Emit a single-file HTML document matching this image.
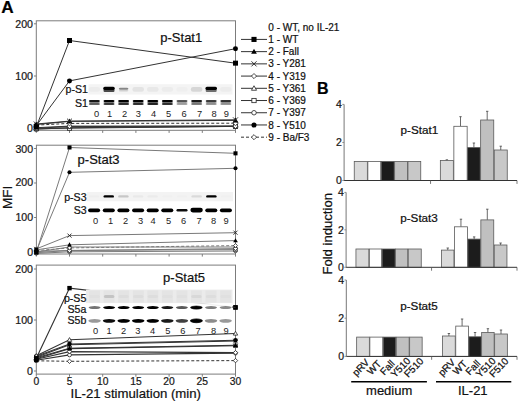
<!DOCTYPE html>
<html><head><meta charset="utf-8"><style>
html,body{margin:0;padding:0;background:#fff;}
svg{display:block;font-family:"Liberation Sans", sans-serif;}
text{stroke:#111;stroke-width:0.22px;}
</style></head><body>
<svg width="520" height="402" viewBox="0 0 520 402">
<defs>
<filter id="bl7" x="-50%" y="-150%" width="200%" height="400%"><feGaussianBlur stdDeviation="0.7"/></filter>
<filter id="bl5" x="-50%" y="-150%" width="200%" height="400%"><feGaussianBlur stdDeviation="0.5"/></filter>
<filter id="bl6" x="-50%" y="-150%" width="200%" height="400%"><feGaussianBlur stdDeviation="0.6"/></filter>
<filter id="bl9" x="-50%" y="-150%" width="200%" height="400%"><feGaussianBlur stdDeviation="0.9"/></filter>
<filter id="bl12" x="-50%" y="-100%" width="200%" height="300%"><feGaussianBlur stdDeviation="1.2"/></filter>
</defs>
<rect width="520" height="402" fill="#fff"/>
<text x="1.3" y="13.4" font-size="17.2" text-anchor="start" font-weight="bold" fill="#000" >A</text>
<rect x="36.3" y="20.8" width="199.2" height="109.5" fill="none" stroke="#7c7c7c" stroke-width="1"/>
<line x1="34.0" y1="23.8" x2="36.3" y2="23.8" stroke="#7c7c7c" stroke-width="1"/>
<text x="33.0" y="27.6" font-size="10.6" text-anchor="end" font-weight="normal" fill="#1a1a1a" >200</text>
<line x1="34.0" y1="76" x2="36.3" y2="76" stroke="#7c7c7c" stroke-width="1"/>
<text x="33.0" y="79.8" font-size="10.6" text-anchor="end" font-weight="normal" fill="#1a1a1a" >100</text>
<line x1="34.0" y1="128.2" x2="36.3" y2="128.2" stroke="#7c7c7c" stroke-width="1"/>
<text x="33.0" y="132.0" font-size="10.6" text-anchor="end" font-weight="normal" fill="#1a1a1a" >0</text>
<line x1="36.3" y1="130.3" x2="36.3" y2="132.9" stroke="#7c7c7c" stroke-width="1"/>
<line x1="69.5" y1="130.3" x2="69.5" y2="132.9" stroke="#7c7c7c" stroke-width="1"/>
<line x1="102.7" y1="130.3" x2="102.7" y2="132.9" stroke="#7c7c7c" stroke-width="1"/>
<line x1="135.9" y1="130.3" x2="135.9" y2="132.9" stroke="#7c7c7c" stroke-width="1"/>
<line x1="169.1" y1="130.3" x2="169.1" y2="132.9" stroke="#7c7c7c" stroke-width="1"/>
<line x1="202.3" y1="130.3" x2="202.3" y2="132.9" stroke="#7c7c7c" stroke-width="1"/>
<line x1="235.5" y1="130.3" x2="235.5" y2="132.9" stroke="#7c7c7c" stroke-width="1"/>
<rect x="36.4" y="145.2" width="199.1" height="108.8" fill="none" stroke="#7c7c7c" stroke-width="1"/>
<line x1="34.1" y1="148.5" x2="36.4" y2="148.5" stroke="#7c7c7c" stroke-width="1"/>
<text x="33.1" y="152.8" font-size="10.6" text-anchor="end" font-weight="normal" fill="#1a1a1a" >300</text>
<line x1="34.1" y1="183.0" x2="36.4" y2="183.0" stroke="#7c7c7c" stroke-width="1"/>
<text x="33.1" y="186.2" font-size="10.6" text-anchor="end" font-weight="normal" fill="#1a1a1a" >200</text>
<line x1="34.1" y1="217.5" x2="36.4" y2="217.5" stroke="#7c7c7c" stroke-width="1"/>
<text x="33.1" y="221.0" font-size="10.6" text-anchor="end" font-weight="normal" fill="#1a1a1a" >100</text>
<line x1="34.1" y1="252.0" x2="36.4" y2="252.0" stroke="#7c7c7c" stroke-width="1"/>
<text x="33.1" y="255.6" font-size="10.6" text-anchor="end" font-weight="normal" fill="#1a1a1a" >0</text>
<line x1="36.3" y1="254.0" x2="36.3" y2="256.6" stroke="#7c7c7c" stroke-width="1"/>
<line x1="69.5" y1="254.0" x2="69.5" y2="256.6" stroke="#7c7c7c" stroke-width="1"/>
<line x1="102.7" y1="254.0" x2="102.7" y2="256.6" stroke="#7c7c7c" stroke-width="1"/>
<line x1="135.9" y1="254.0" x2="135.9" y2="256.6" stroke="#7c7c7c" stroke-width="1"/>
<line x1="169.1" y1="254.0" x2="169.1" y2="256.6" stroke="#7c7c7c" stroke-width="1"/>
<line x1="202.3" y1="254.0" x2="202.3" y2="256.6" stroke="#7c7c7c" stroke-width="1"/>
<line x1="235.5" y1="254.0" x2="235.5" y2="256.6" stroke="#7c7c7c" stroke-width="1"/>
<rect x="36.3" y="265.1" width="199.2" height="109.0" fill="none" stroke="#7c7c7c" stroke-width="1"/>
<line x1="34.0" y1="269.0" x2="36.3" y2="269.0" stroke="#7c7c7c" stroke-width="1"/>
<text x="33.0" y="272.8" font-size="10.6" text-anchor="end" font-weight="normal" fill="#1a1a1a" >200</text>
<line x1="34.0" y1="320.0" x2="36.3" y2="320.0" stroke="#7c7c7c" stroke-width="1"/>
<text x="33.0" y="323.8" font-size="10.6" text-anchor="end" font-weight="normal" fill="#1a1a1a" >100</text>
<line x1="34.0" y1="371.0" x2="36.3" y2="371.0" stroke="#7c7c7c" stroke-width="1"/>
<text x="33.0" y="374.8" font-size="10.6" text-anchor="end" font-weight="normal" fill="#1a1a1a" >0</text>
<line x1="36.3" y1="374.1" x2="36.3" y2="376.7" stroke="#7c7c7c" stroke-width="1"/>
<line x1="69.5" y1="374.1" x2="69.5" y2="376.7" stroke="#7c7c7c" stroke-width="1"/>
<line x1="102.7" y1="374.1" x2="102.7" y2="376.7" stroke="#7c7c7c" stroke-width="1"/>
<line x1="135.9" y1="374.1" x2="135.9" y2="376.7" stroke="#7c7c7c" stroke-width="1"/>
<line x1="169.1" y1="374.1" x2="169.1" y2="376.7" stroke="#7c7c7c" stroke-width="1"/>
<line x1="202.3" y1="374.1" x2="202.3" y2="376.7" stroke="#7c7c7c" stroke-width="1"/>
<line x1="235.5" y1="374.1" x2="235.5" y2="376.7" stroke="#7c7c7c" stroke-width="1"/>
<text x="36.3" y="385.2" font-size="10.3" text-anchor="middle" font-weight="normal" fill="#1a1a1a" >0</text>
<text x="69.5" y="385.2" font-size="10.3" text-anchor="middle" font-weight="normal" fill="#1a1a1a" >5</text>
<text x="102.7" y="385.2" font-size="10.3" text-anchor="middle" font-weight="normal" fill="#1a1a1a" >10</text>
<text x="135.9" y="385.2" font-size="10.3" text-anchor="middle" font-weight="normal" fill="#1a1a1a" >15</text>
<text x="169.1" y="385.2" font-size="10.3" text-anchor="middle" font-weight="normal" fill="#1a1a1a" >20</text>
<text x="202.3" y="385.2" font-size="10.3" text-anchor="middle" font-weight="normal" fill="#1a1a1a" >25</text>
<text x="235.5" y="385.2" font-size="10.3" text-anchor="middle" font-weight="normal" fill="#1a1a1a" >30</text>
<text x="135.8" y="398.1" font-size="13.2" text-anchor="middle" font-weight="normal" fill="#111" >IL-21 stimulation (min)</text>
<text transform="translate(12.2,197.4) rotate(-90)" font-size="13.5" text-anchor="middle" fill="#111">MFI</text>
<text x="160.3" y="42" font-size="13" text-anchor="start" font-weight="normal" fill="#111" >p-Stat1</text>
<text x="77.6" y="163.9" font-size="13" text-anchor="start" font-weight="normal" fill="#111" >p-Stat3</text>
<text x="163.1" y="281.6" font-size="13" text-anchor="start" font-weight="normal" fill="#111" >p-Stat5</text>
<path d="M36.3,129.2 L69.5,127.7 L235.5,126.4" fill="none" stroke="#333" stroke-width="1.0"/>
<circle cx="36.3" cy="129.24" r="2.19" fill="#fff" stroke="#222" stroke-width="0.8"/>
<circle cx="69.5" cy="127.68" r="2.19" fill="#fff" stroke="#222" stroke-width="0.8"/>
<circle cx="235.5" cy="126.37" r="2.19" fill="#fff" stroke="#222" stroke-width="0.8"/>
<path d="M36.3,128.7 L69.5,128.2 L235.5,126.4" fill="none" stroke="#333" stroke-width="1.0"/>
<rect x="34.21" y="126.63" width="4.19" height="4.19" fill="#fff" stroke="#222" stroke-width="0.8"/>
<rect x="67.41" y="126.11" width="4.19" height="4.19" fill="#fff" stroke="#222" stroke-width="0.8"/>
<rect x="233.41" y="124.28" width="4.19" height="4.19" fill="#fff" stroke="#222" stroke-width="0.8"/>
<path d="M36.3,128.2 L69.5,126.6 L235.5,126.1" fill="none" stroke="#333" stroke-width="1.0"/>
<path d="M36.3,125.71 L38.79,130.09 L33.81,130.09 Z" fill="#fff" stroke="#222" stroke-width="0.8"/>
<path d="M69.5,124.14 L71.99,128.53 L67.01,128.53 Z" fill="#fff" stroke="#222" stroke-width="0.8"/>
<path d="M235.5,123.62 L237.99,128.01 L233.01,128.01 Z" fill="#fff" stroke="#222" stroke-width="0.8"/>
<path d="M36.3,127.7 L69.5,126.1 L235.5,126.1" fill="none" stroke="#333" stroke-width="1.0"/>
<path d="M36.3,125.18 L38.79,127.68 L36.3,130.17 L33.81,127.68 Z" fill="#fff" stroke="#222" stroke-width="0.8"/>
<path d="M69.5,123.62 L71.99,126.11 L69.5,128.61 L67.01,126.11 Z" fill="#fff" stroke="#222" stroke-width="0.8"/>
<path d="M235.5,123.62 L237.99,126.11 L235.5,128.61 L233.01,126.11 Z" fill="#fff" stroke="#222" stroke-width="0.8"/>
<path d="M36.3,125.1 L69.5,123.4 L235.5,123.2" fill="none" stroke="#333" stroke-width="1.0" stroke-dasharray="3,2"/>
<path d="M36.3,122.57 L38.79,125.07 L36.3,127.56 L33.81,125.07 Z" fill="#fff" stroke="#222" stroke-width="0.8"/>
<path d="M69.5,120.9 L71.99,123.4 L69.5,125.89 L67.01,123.4 Z" fill="#fff" stroke="#222" stroke-width="0.8"/>
<path d="M235.5,120.75 L237.99,123.24 L235.5,125.73 L233.01,123.24 Z" fill="#fff" stroke="#222" stroke-width="0.8"/>
<path d="M36.3,124.5 L69.5,121.4 L235.5,120.4" fill="none" stroke="#333" stroke-width="1.0"/>
<path d="M36.3,121.65 L39.09,126.64 L33.51,126.64 Z" fill="#000"/>
<path d="M69.5,118.52 L72.29,123.51 L66.71,123.51 Z" fill="#000"/>
<path d="M235.5,117.48 L238.29,122.46 L232.71,122.46 Z" fill="#000"/>
<path d="M36.3,124.0 L69.5,121.1 L235.5,119.8" fill="none" stroke="#333" stroke-width="1.0"/>
<path d="M33.81,121.53 L38.79,126.52 M33.81,126.52 L38.79,121.53" stroke="#222" stroke-width="0.9" fill="none"/>
<path d="M67.01,118.61 L71.99,123.59 M67.01,123.59 L71.99,118.61" stroke="#222" stroke-width="0.9" fill="none"/>
<path d="M233.01,117.35 L237.99,122.34 M233.01,122.34 L237.99,117.35" stroke="#222" stroke-width="0.9" fill="none"/>
<path d="M36.3,125.6 L69.5,80.9 L235.5,48.7" fill="none" stroke="#333" stroke-width="1.0"/>
<circle cx="36.3" cy="125.59" r="2.49" fill="#000"/>
<circle cx="69.5" cy="80.91" r="2.49" fill="#000"/>
<circle cx="235.5" cy="48.7" r="2.49" fill="#000"/>
<path d="M36.3,126.9 L69.5,40.5 L235.5,63.2" fill="none" stroke="#333" stroke-width="1.0"/>
<rect x="33.81" y="124.4" width="4.99" height="4.99" fill="#000"/>
<rect x="67.01" y="38.01" width="4.99" height="4.99" fill="#000"/>
<rect x="233.01" y="60.66" width="4.99" height="4.99" fill="#000"/>
<path d="M36.3,253.4 L69.5,251.8 L235.5,251.0" fill="none" stroke="#7a7a7a" stroke-width="1.0"/>
<circle cx="36.3" cy="253.38" r="1.73" fill="#fff" stroke="#222" stroke-width="0.8"/>
<circle cx="69.5" cy="251.83" r="1.73" fill="#fff" stroke="#222" stroke-width="0.8"/>
<circle cx="235.5" cy="250.97" r="1.73" fill="#fff" stroke="#222" stroke-width="0.8"/>
<path d="M36.3,252.7 L69.5,250.4 L235.5,249.6" fill="none" stroke="#7a7a7a" stroke-width="1.0"/>
<rect x="34.67" y="251.06" width="3.26" height="3.26" fill="#fff" stroke="#222" stroke-width="0.8"/>
<rect x="67.87" y="248.78" width="3.26" height="3.26" fill="#fff" stroke="#222" stroke-width="0.8"/>
<rect x="233.87" y="247.96" width="3.26" height="3.26" fill="#fff" stroke="#222" stroke-width="0.8"/>
<path d="M36.3,252.0 L69.5,247.0 L235.5,247.0" fill="none" stroke="#7a7a7a" stroke-width="1.0"/>
<path d="M36.3,249.97 L38.33,253.43 L34.27,253.43 Z" fill="#fff" stroke="#222" stroke-width="0.8"/>
<path d="M69.5,244.97 L71.53,248.43 L67.47,248.43 Z" fill="#fff" stroke="#222" stroke-width="0.8"/>
<path d="M235.5,244.97 L237.53,248.43 L233.47,248.43 Z" fill="#fff" stroke="#222" stroke-width="0.8"/>
<path d="M36.3,251.3 L69.5,250.6 L235.5,248.6" fill="none" stroke="#7a7a7a" stroke-width="1.0"/>
<path d="M36.3,249.28 L38.33,251.31 L36.3,253.34 L34.27,251.31 Z" fill="#fff" stroke="#222" stroke-width="0.8"/>
<path d="M69.5,248.59 L71.53,250.62 L69.5,252.65 L67.47,250.62 Z" fill="#fff" stroke="#222" stroke-width="0.8"/>
<path d="M235.5,246.52 L237.53,248.55 L235.5,250.58 L233.47,248.55 Z" fill="#fff" stroke="#222" stroke-width="0.8"/>
<path d="M36.3,250.6 L69.5,247.9 L235.5,245.6" fill="none" stroke="#7a7a7a" stroke-width="1.0" stroke-dasharray="3,2"/>
<path d="M36.3,248.59 L38.33,250.62 L36.3,252.65 L34.27,250.62 Z" fill="#fff" stroke="#222" stroke-width="0.8"/>
<path d="M69.5,245.83 L71.53,247.86 L69.5,249.89 L67.47,247.86 Z" fill="#fff" stroke="#222" stroke-width="0.8"/>
<path d="M235.5,243.55 L237.53,245.58 L235.5,247.61 L233.47,245.58 Z" fill="#fff" stroke="#222" stroke-width="0.8"/>
<path d="M36.3,249.9 L69.5,244.8 L235.5,240.6" fill="none" stroke="#7a7a7a" stroke-width="1.0"/>
<path d="M36.3,247.5 L38.63,251.56 L33.97,251.56 Z" fill="#000"/>
<path d="M69.5,242.32 L71.83,246.38 L67.17,246.38 Z" fill="#000"/>
<path d="M235.5,238.19 L237.83,242.25 L233.17,242.25 Z" fill="#000"/>
<path d="M36.3,248.9 L69.5,235.6 L235.5,232.7" fill="none" stroke="#7a7a7a" stroke-width="1.0"/>
<path d="M34.27,246.87 L38.33,250.93 M34.27,250.93 L38.33,246.87" stroke="#222" stroke-width="0.9" fill="none"/>
<path d="M67.47,233.58 L71.53,237.64 M67.47,237.64 L71.53,233.58" stroke="#222" stroke-width="0.9" fill="none"/>
<path d="M233.47,230.65 L237.53,234.71 M233.47,234.71 L237.53,230.65" stroke="#222" stroke-width="0.9" fill="none"/>
<path d="M36.3,251.0 L69.5,172.3 L235.5,168.3" fill="none" stroke="#7a7a7a" stroke-width="1.0"/>
<circle cx="36.3" cy="250.97" r="2.03" fill="#000"/>
<circle cx="69.5" cy="172.31" r="2.03" fill="#000"/>
<circle cx="235.5" cy="168.3" r="2.03" fill="#000"/>
<path d="M36.3,252.3 L69.5,147.5 L235.5,153.3" fill="none" stroke="#7a7a7a" stroke-width="1.0"/>
<rect x="34.27" y="250.31" width="4.06" height="4.06" fill="#000"/>
<rect x="67.47" y="145.44" width="4.06" height="4.06" fill="#000"/>
<rect x="233.47" y="151.3" width="4.06" height="4.06" fill="#000"/>
<path d="M36.3,249.6" fill="none" stroke="#7a7a7a" stroke-width="1.0"/>
<rect x="34.27" y="247.56" width="4.06" height="4.06" fill="#000"/>
<path d="M36.3,360.8 L69.5,361.3 L235.5,360.6" fill="none" stroke="#333" stroke-width="1.0" stroke-dasharray="3,2"/>
<path d="M36.3,358.6 L38.5,360.8 L36.3,363 L34.1,360.8 Z" fill="#fff" stroke="#222" stroke-width="0.8"/>
<path d="M69.5,359.11 L71.7,361.31 L69.5,363.51 L67.3,361.31 Z" fill="#fff" stroke="#222" stroke-width="0.8"/>
<path d="M235.5,358.39 L237.7,360.6 L235.5,362.8 L233.3,360.6 Z" fill="#fff" stroke="#222" stroke-width="0.8"/>
<path d="M36.3,360.3 L69.5,354.9 L235.5,353.1" fill="none" stroke="#333" stroke-width="1.15"/>
<circle cx="36.3" cy="360.29" r="1.9" fill="#fff" stroke="#222" stroke-width="0.8"/>
<circle cx="69.5" cy="354.94" r="1.9" fill="#fff" stroke="#222" stroke-width="0.8"/>
<circle cx="235.5" cy="353.15" r="1.9" fill="#fff" stroke="#222" stroke-width="0.8"/>
<path d="M36.3,359.3 L69.5,351.6 L235.5,352.6" fill="none" stroke="#333" stroke-width="1.15"/>
<path d="M36.3,357.07 L38.5,359.27 L36.3,361.47 L34.1,359.27 Z" fill="#fff" stroke="#222" stroke-width="0.8"/>
<path d="M69.5,349.42 L71.7,351.62 L69.5,353.82 L67.3,351.62 Z" fill="#fff" stroke="#222" stroke-width="0.8"/>
<path d="M235.5,350.44 L237.7,352.64 L235.5,354.84 L233.3,352.64 Z" fill="#fff" stroke="#222" stroke-width="0.8"/>
<path d="M36.3,358.8 L69.5,348.6 L235.5,345.8" fill="none" stroke="#333" stroke-width="1.15"/>
<rect x="34.5" y="356.96" width="3.61" height="3.61" fill="#fff" stroke="#222" stroke-width="0.8"/>
<rect x="67.7" y="346.81" width="3.61" height="3.61" fill="#fff" stroke="#222" stroke-width="0.8"/>
<rect x="233.7" y="344" width="3.61" height="3.61" fill="#fff" stroke="#222" stroke-width="0.8"/>
<path d="M36.3,357.7 L69.5,348.2 L235.5,345.3" fill="none" stroke="#333" stroke-width="1.15"/>
<path d="M36.3,355.14 L38.8,359.54 L33.8,359.54 Z" fill="#000"/>
<path d="M69.5,345.6 L72,350.01 L67,350.01 Z" fill="#000"/>
<path d="M235.5,342.69 L238,347.1 L233,347.1 Z" fill="#000"/>
<path d="M36.3,357.2 L69.5,344.8 L235.5,341.0" fill="none" stroke="#333" stroke-width="1.15"/>
<path d="M34.1,355.03 L38.5,359.43 M34.1,359.43 L38.5,355.03" stroke="#222" stroke-width="0.9" fill="none"/>
<path d="M67.3,342.58 L71.7,346.99 M67.3,346.99 L71.7,342.58" stroke="#222" stroke-width="0.9" fill="none"/>
<path d="M233.3,338.81 L237.7,343.22 M233.3,343.22 L237.7,338.81" stroke="#222" stroke-width="0.9" fill="none"/>
<path d="M36.3,356.2 L69.5,344.0 L235.5,340.2" fill="none" stroke="#333" stroke-width="1.15"/>
<circle cx="36.3" cy="356.21" r="2.2" fill="#000"/>
<circle cx="69.5" cy="344.02" r="2.2" fill="#000"/>
<circle cx="235.5" cy="340.2" r="2.2" fill="#000"/>
<path d="M36.3,355.7 L69.5,339.8 L235.5,333.5" fill="none" stroke="#333" stroke-width="1.15"/>
<path d="M36.3,353.5 L38.5,357.3 L34.1,357.3 Z" fill="#fff" stroke="#222" stroke-width="0.8"/>
<path d="M69.5,337.58 L71.7,341.39 L67.3,341.39 Z" fill="#fff" stroke="#222" stroke-width="0.8"/>
<path d="M235.5,331.31 L237.7,335.12 L233.3,335.12 Z" fill="#fff" stroke="#222" stroke-width="0.8"/>
<path d="M36.3,358.2 L69.5,288.1 L235.5,307.4" fill="none" stroke="#333" stroke-width="1.15"/>
<rect x="34.1" y="356.05" width="4.41" height="4.41" fill="#000"/>
<rect x="67.3" y="285.92" width="4.41" height="4.41" fill="#000"/>
<rect x="233.3" y="305.2" width="4.41" height="4.41" fill="#000"/>
<path d="M36.3,360.0" fill="none" stroke="#333" stroke-width="1.15"/>
<rect x="34.1" y="357.83" width="4.41" height="4.41" fill="#000"/>
<rect x="88.5" y="84.2" width="144" height="10.5" fill="#f4f4f4"/>
<rect x="88.5" y="94.7" width="144" height="12" fill="#fff"/>
<rect x="88.6" y="87.0" width="11.6" height="4.8" rx="2.2" fill="#000" fill-opacity="0.03" filter="url(#bl7)"/>
<rect x="132.4" y="87.0" width="11.6" height="4.8" rx="2.2" fill="#000" fill-opacity="0.07" filter="url(#bl7)"/>
<rect x="147.0" y="87.0" width="11.6" height="4.8" rx="2.2" fill="#000" fill-opacity="0.05" filter="url(#bl7)"/>
<rect x="161.6" y="87.0" width="11.6" height="4.8" rx="2.2" fill="#000" fill-opacity="0.03" filter="url(#bl7)"/>
<rect x="176.2" y="87.0" width="11.6" height="4.8" rx="2.2" fill="#000" fill-opacity="0.02" filter="url(#bl7)"/>
<rect x="190.8" y="87.0" width="11.6" height="4.8" rx="2.2" fill="#000" fill-opacity="0.12" filter="url(#bl7)"/>
<rect x="220.0" y="87.0" width="11.6" height="4.8" rx="2.2" fill="#000" fill-opacity="0.03" filter="url(#bl7)"/>
<rect x="103.2" y="86.7" width="11.6" height="3.4" rx="1.6" fill="#000" fill-opacity="1" filter="url(#bl7)"/>
<rect x="205.4" y="86.7" width="11.6" height="3.4" rx="1.6" fill="#000" fill-opacity="1" filter="url(#bl7)"/>
<rect x="103.5" y="89.3" width="11.0" height="2.6" rx="1.2" fill="#000" fill-opacity="0.7" filter="url(#bl7)"/>
<rect x="205.7" y="89.3" width="11.0" height="2.6" rx="1.2" fill="#000" fill-opacity="0.55" filter="url(#bl7)"/>
<rect x="118.8" y="87.7" width="9.6" height="2.0" rx="1.5" fill="#000" fill-opacity="0.45" filter="url(#bl7)"/>
<rect x="118.8" y="90.0" width="9.6" height="1.5" rx="1.5" fill="#000" fill-opacity="0.15" filter="url(#bl7)"/>
<rect x="88.9" y="99.9" width="11" height="2.3" rx="1.5" fill="#000" fill-opacity="0.9" filter="url(#bl7)"/>
<rect x="103.5" y="99.9" width="11" height="2.3" rx="1.5" fill="#000" fill-opacity="1" filter="url(#bl7)"/>
<rect x="118.1" y="99.9" width="11" height="2.3" rx="1.5" fill="#000" fill-opacity="1" filter="url(#bl7)"/>
<rect x="132.7" y="99.9" width="11" height="2.3" rx="1.5" fill="#000" fill-opacity="1" filter="url(#bl7)"/>
<rect x="147.3" y="99.9" width="11" height="2.3" rx="1.5" fill="#000" fill-opacity="1" filter="url(#bl7)"/>
<rect x="161.9" y="99.9" width="11" height="2.3" rx="1.5" fill="#000" fill-opacity="1" filter="url(#bl7)"/>
<rect x="176.5" y="99.9" width="11" height="2.3" rx="1.5" fill="#000" fill-opacity="0.65" filter="url(#bl7)"/>
<rect x="191.1" y="99.9" width="11" height="2.3" rx="1.5" fill="#000" fill-opacity="0.9" filter="url(#bl7)"/>
<rect x="205.7" y="99.9" width="11" height="2.3" rx="1.5" fill="#000" fill-opacity="0.75" filter="url(#bl7)"/>
<rect x="220.3" y="99.9" width="11" height="2.3" rx="1.5" fill="#000" fill-opacity="0.8" filter="url(#bl7)"/>
<rect x="88.9" y="101.8" width="11" height="1.4" rx="1.5" fill="#000" fill-opacity="0.35" filter="url(#bl7)"/>
<rect x="103.5" y="101.8" width="11" height="1.4" rx="1.5" fill="#000" fill-opacity="0.4" filter="url(#bl7)"/>
<rect x="118.1" y="101.8" width="11" height="1.4" rx="1.5" fill="#000" fill-opacity="0.45" filter="url(#bl7)"/>
<rect x="132.7" y="101.8" width="11" height="1.4" rx="1.5" fill="#000" fill-opacity="0.45" filter="url(#bl7)"/>
<rect x="147.3" y="101.8" width="11" height="1.4" rx="1.5" fill="#000" fill-opacity="0.5" filter="url(#bl7)"/>
<rect x="161.9" y="101.8" width="11" height="1.4" rx="1.5" fill="#000" fill-opacity="0.45" filter="url(#bl7)"/>
<rect x="176.5" y="101.8" width="11" height="1.4" rx="1.5" fill="#000" fill-opacity="0.25" filter="url(#bl7)"/>
<rect x="191.1" y="101.8" width="11" height="1.4" rx="1.5" fill="#000" fill-opacity="0.35" filter="url(#bl7)"/>
<rect x="205.7" y="101.8" width="11" height="1.4" rx="1.5" fill="#000" fill-opacity="0.3" filter="url(#bl7)"/>
<rect x="220.3" y="101.8" width="11" height="1.4" rx="1.5" fill="#000" fill-opacity="0.3" filter="url(#bl7)"/>
<rect x="88.9" y="102.9" width="11" height="2.1" rx="1.5" fill="#000" fill-opacity="0.6" filter="url(#bl7)"/>
<rect x="103.5" y="102.9" width="11" height="2.1" rx="1.5" fill="#000" fill-opacity="0.75" filter="url(#bl7)"/>
<rect x="118.1" y="102.9" width="11" height="2.1" rx="1.5" fill="#000" fill-opacity="0.8" filter="url(#bl7)"/>
<rect x="132.7" y="102.9" width="11" height="2.1" rx="1.5" fill="#000" fill-opacity="0.8" filter="url(#bl7)"/>
<rect x="147.3" y="102.9" width="11" height="2.1" rx="1.5" fill="#000" fill-opacity="0.85" filter="url(#bl7)"/>
<rect x="161.9" y="102.9" width="11" height="2.1" rx="1.5" fill="#000" fill-opacity="0.8" filter="url(#bl7)"/>
<rect x="176.5" y="102.9" width="11" height="2.1" rx="1.5" fill="#000" fill-opacity="0.35" filter="url(#bl7)"/>
<rect x="191.1" y="102.9" width="11" height="2.1" rx="1.5" fill="#000" fill-opacity="0.5" filter="url(#bl7)"/>
<rect x="205.7" y="102.9" width="11" height="2.1" rx="1.5" fill="#000" fill-opacity="0.4" filter="url(#bl7)"/>
<rect x="220.3" y="102.9" width="11" height="2.1" rx="1.5" fill="#000" fill-opacity="0.4" filter="url(#bl7)"/>
<text x="96.5" y="116.7" font-size="9.3" text-anchor="middle" font-weight="normal" fill="#222" style="stroke-width:0">0</text>
<text x="109.5" y="116.7" font-size="9.3" text-anchor="middle" font-weight="normal" fill="#222" style="stroke-width:0">1</text>
<text x="124.5" y="116.7" font-size="9.3" text-anchor="middle" font-weight="normal" fill="#222" style="stroke-width:0">2</text>
<text x="138.4" y="116.7" font-size="9.3" text-anchor="middle" font-weight="normal" fill="#222" style="stroke-width:0">3</text>
<text x="153.6" y="116.7" font-size="9.3" text-anchor="middle" font-weight="normal" fill="#222" style="stroke-width:0">4</text>
<text x="168.6" y="116.7" font-size="9.3" text-anchor="middle" font-weight="normal" fill="#222" style="stroke-width:0">5</text>
<text x="184" y="116.7" font-size="9.3" text-anchor="middle" font-weight="normal" fill="#222" style="stroke-width:0">6</text>
<text x="199.5" y="116.7" font-size="9.3" text-anchor="middle" font-weight="normal" fill="#222" style="stroke-width:0">7</text>
<text x="214.2" y="116.7" font-size="9.3" text-anchor="middle" font-weight="normal" fill="#222" style="stroke-width:0">8</text>
<text x="226.3" y="116.7" font-size="9.3" text-anchor="middle" font-weight="normal" fill="#222" style="stroke-width:0">9</text>
<text x="88" y="93.2" font-size="10.6" text-anchor="end" font-weight="normal" fill="#111" >p-S1</text>
<text x="88" y="106.6" font-size="10.6" text-anchor="end" font-weight="normal" fill="#111" >S1</text>
<rect x="87" y="192" width="146" height="9.5" fill="#f3f3f3"/>
<rect x="87" y="201.5" width="146" height="13" fill="#fff"/>
<rect x="88.8" y="195.2" width="10.5" height="2.4" rx="1.5" fill="#000" fill-opacity="0.02" filter="url(#bl7)"/>
<rect x="103.5" y="195.2" width="10.5" height="2.4" rx="1.5" fill="#000" fill-opacity="1.0" filter="url(#bl7)"/>
<rect x="118.1" y="195.2" width="10.5" height="2.4" rx="1.5" fill="#000" fill-opacity="0.18" filter="url(#bl7)"/>
<rect x="132.8" y="195.2" width="10.5" height="2.4" rx="1.5" fill="#000" fill-opacity="0.04" filter="url(#bl7)"/>
<rect x="147.4" y="195.2" width="10.5" height="2.4" rx="1.5" fill="#000" fill-opacity="0.03" filter="url(#bl7)"/>
<rect x="162.1" y="195.2" width="10.5" height="2.4" rx="1.5" fill="#000" fill-opacity="0.01" filter="url(#bl7)"/>
<rect x="176.8" y="195.2" width="10.5" height="2.4" rx="1.5" fill="#000" fill-opacity="0.01" filter="url(#bl7)"/>
<rect x="191.4" y="195.2" width="10.5" height="2.4" rx="1.5" fill="#000" fill-opacity="0.1" filter="url(#bl7)"/>
<rect x="206.1" y="195.2" width="10.5" height="2.4" rx="1.5" fill="#000" fill-opacity="1.0" filter="url(#bl7)"/>
<rect x="220.7" y="195.2" width="10.5" height="2.4" rx="1.5" fill="#000" fill-opacity="0.01" filter="url(#bl7)"/>
<rect x="88.1" y="208.5" width="12.0" height="3.7" rx="1.85" fill="#000" fill-opacity="1" filter="url(#bl6)"/>
<rect x="102.8" y="208.5" width="12.0" height="3.7" rx="1.85" fill="#000" fill-opacity="1" filter="url(#bl6)"/>
<rect x="117.4" y="208.5" width="12.0" height="3.7" rx="1.85" fill="#000" fill-opacity="1" filter="url(#bl6)"/>
<rect x="132.1" y="208.5" width="12.0" height="3.7" rx="1.85" fill="#000" fill-opacity="1" filter="url(#bl6)"/>
<rect x="146.7" y="208.5" width="12.0" height="3.7" rx="1.85" fill="#000" fill-opacity="1" filter="url(#bl6)"/>
<rect x="161.3" y="208.5" width="12.0" height="3.7" rx="1.85" fill="#000" fill-opacity="1" filter="url(#bl6)"/>
<rect x="205.3" y="208.5" width="12.0" height="3.7" rx="1.85" fill="#000" fill-opacity="1" filter="url(#bl6)"/>
<rect x="219.9" y="208.5" width="12.0" height="3.7" rx="1.85" fill="#000" fill-opacity="1" filter="url(#bl6)"/>
<rect x="176.5" y="209.1" width="11.0" height="2.4" rx="1.2" fill="#000" fill-opacity="0.95" filter="url(#bl6)"/>
<rect x="190.4" y="207.7" width="12.4" height="4.8" rx="2.4" fill="#000" fill-opacity="1" filter="url(#bl6)"/>
<text x="95.5" y="224.2" font-size="9.3" text-anchor="middle" font-weight="normal" fill="#222" style="stroke-width:0">0</text>
<text x="110.6" y="224.2" font-size="9.3" text-anchor="middle" font-weight="normal" fill="#222" style="stroke-width:0">1</text>
<text x="125.6" y="224.2" font-size="9.3" text-anchor="middle" font-weight="normal" fill="#222" style="stroke-width:0">2</text>
<text x="140.5" y="224.2" font-size="9.3" text-anchor="middle" font-weight="normal" fill="#222" style="stroke-width:0">3</text>
<text x="153.2" y="224.2" font-size="9.3" text-anchor="middle" font-weight="normal" fill="#222" style="stroke-width:0">4</text>
<text x="168.5" y="224.2" font-size="9.3" text-anchor="middle" font-weight="normal" fill="#222" style="stroke-width:0">5</text>
<text x="183.7" y="224.2" font-size="9.3" text-anchor="middle" font-weight="normal" fill="#222" style="stroke-width:0">6</text>
<text x="199" y="224.2" font-size="9.3" text-anchor="middle" font-weight="normal" fill="#222" style="stroke-width:0">7</text>
<text x="213.7" y="224.2" font-size="9.3" text-anchor="middle" font-weight="normal" fill="#222" style="stroke-width:0">8</text>
<text x="226.1" y="224.2" font-size="9.3" text-anchor="middle" font-weight="normal" fill="#222" style="stroke-width:0">9</text>
<text x="86.6" y="200.6" font-size="10.6" text-anchor="end" font-weight="normal" fill="#111" >p-S3</text>
<text x="86.6" y="214.1" font-size="10.6" text-anchor="end" font-weight="normal" fill="#111" >S3</text>
<rect x="86" y="289.6" width="146.5" height="13.8" fill="#ebebeb"/>
<rect x="89.1" y="290.5" width="11" height="12" fill="#000" fill-opacity="0.03" filter="url(#bl7)"/>
<rect x="103.6" y="290.5" width="11" height="12" fill="#000" fill-opacity="0.03" filter="url(#bl7)"/>
<rect x="118.2" y="290.5" width="11" height="12" fill="#000" fill-opacity="0.03" filter="url(#bl7)"/>
<rect x="132.8" y="290.5" width="11" height="12" fill="#000" fill-opacity="0.03" filter="url(#bl7)"/>
<rect x="147.3" y="290.5" width="11" height="12" fill="#000" fill-opacity="0.03" filter="url(#bl7)"/>
<rect x="161.8" y="290.5" width="11" height="12" fill="#000" fill-opacity="0.03" filter="url(#bl7)"/>
<rect x="176.4" y="290.5" width="11" height="12" fill="#000" fill-opacity="0.03" filter="url(#bl7)"/>
<rect x="190.9" y="290.5" width="11" height="12" fill="#000" fill-opacity="0.03" filter="url(#bl7)"/>
<rect x="205.5" y="290.5" width="11" height="12" fill="#000" fill-opacity="0.03" filter="url(#bl7)"/>
<rect x="220.1" y="290.5" width="11" height="12" fill="#000" fill-opacity="0.03" filter="url(#bl7)"/>
<rect x="86" y="303.2" width="146.5" height="22" fill="#fff" fill-opacity="0.93"/>
<rect x="89.3" y="295.0" width="10.5" height="3" rx="1.5" fill="#000" fill-opacity="0.02" filter="url(#bl7)"/>
<rect x="103.9" y="295.0" width="10.5" height="3" rx="1.5" fill="#000" fill-opacity="0.14" filter="url(#bl7)"/>
<rect x="118.4" y="295.0" width="10.5" height="3" rx="1.5" fill="#000" fill-opacity="0.03" filter="url(#bl7)"/>
<rect x="133.0" y="295.0" width="10.5" height="3" rx="1.5" fill="#000" fill-opacity="0.03" filter="url(#bl7)"/>
<rect x="147.6" y="295.0" width="10.5" height="3" rx="1.5" fill="#000" fill-opacity="0.03" filter="url(#bl7)"/>
<rect x="162.1" y="295.0" width="10.5" height="3" rx="1.5" fill="#000" fill-opacity="0.02" filter="url(#bl7)"/>
<rect x="176.7" y="295.0" width="10.5" height="3" rx="1.5" fill="#000" fill-opacity="0.02" filter="url(#bl7)"/>
<rect x="191.2" y="295.0" width="10.5" height="3" rx="1.5" fill="#000" fill-opacity="0.05" filter="url(#bl7)"/>
<rect x="205.8" y="295.0" width="10.5" height="3" rx="1.5" fill="#000" fill-opacity="0.03" filter="url(#bl7)"/>
<rect x="220.3" y="295.0" width="10.5" height="3" rx="1.5" fill="#000" fill-opacity="0.02" filter="url(#bl7)"/>
<ellipse cx="94.6" cy="307.6" rx="6.0" ry="1.5" fill="#000" fill-opacity="0.55" filter="url(#bl6)"/>
<ellipse cx="109.1" cy="307.6" rx="6.0" ry="1.5" fill="#000" fill-opacity="1" filter="url(#bl6)"/>
<ellipse cx="123.7" cy="307.6" rx="6.0" ry="1.5" fill="#000" fill-opacity="1" filter="url(#bl6)"/>
<ellipse cx="138.2" cy="307.6" rx="6.0" ry="1.5" fill="#000" fill-opacity="1" filter="url(#bl6)"/>
<ellipse cx="152.8" cy="307.6" rx="6.0" ry="1.5" fill="#000" fill-opacity="1" filter="url(#bl6)"/>
<ellipse cx="167.3" cy="307.6" rx="6.0" ry="1.5" fill="#000" fill-opacity="0.9" filter="url(#bl6)"/>
<ellipse cx="181.9" cy="307.6" rx="6.0" ry="1.5" fill="#000" fill-opacity="0.65" filter="url(#bl6)"/>
<ellipse cx="196.4" cy="307.6" rx="6.0" ry="1.5" fill="#000" fill-opacity="1.0" filter="url(#bl6)"/>
<ellipse cx="211.0" cy="307.6" rx="6.0" ry="1.5" fill="#000" fill-opacity="0.5" filter="url(#bl6)"/>
<ellipse cx="225.6" cy="307.6" rx="6.0" ry="1.5" fill="#000" fill-opacity="0.45" filter="url(#bl6)"/>
<ellipse cx="94.6" cy="320.8" rx="6.25" ry="1.9" fill="#000" fill-opacity="0.4" filter="url(#bl6)"/>
<ellipse cx="109.1" cy="320.8" rx="6.25" ry="1.9" fill="#000" fill-opacity="0.95" filter="url(#bl6)"/>
<ellipse cx="123.7" cy="320.8" rx="6.25" ry="1.9" fill="#000" fill-opacity="1.0" filter="url(#bl6)"/>
<ellipse cx="138.2" cy="320.8" rx="6.25" ry="1.9" fill="#000" fill-opacity="1.0" filter="url(#bl6)"/>
<ellipse cx="152.8" cy="320.8" rx="6.25" ry="1.9" fill="#000" fill-opacity="1.0" filter="url(#bl6)"/>
<ellipse cx="167.3" cy="320.8" rx="6.25" ry="1.9" fill="#000" fill-opacity="0.9" filter="url(#bl6)"/>
<ellipse cx="181.9" cy="320.8" rx="6.25" ry="1.9" fill="#000" fill-opacity="0.75" filter="url(#bl6)"/>
<ellipse cx="196.4" cy="320.8" rx="6.25" ry="1.9" fill="#000" fill-opacity="1.0" filter="url(#bl6)"/>
<ellipse cx="211.0" cy="320.8" rx="6.25" ry="1.9" fill="#000" fill-opacity="0.45" filter="url(#bl6)"/>
<ellipse cx="225.6" cy="320.8" rx="6.25" ry="1.9" fill="#000" fill-opacity="0.4" filter="url(#bl6)"/>
<ellipse cx="196.4" cy="307.6" rx="6.25" ry="2.1" fill="#000" fill-opacity="0.6" filter="url(#bl6)"/>
<ellipse cx="196.4" cy="320.8" rx="6.25" ry="2.5" fill="#000" fill-opacity="0.6" filter="url(#bl6)"/>
<text x="95.6" y="333.7" font-size="9.3" text-anchor="middle" font-weight="normal" fill="#222" style="stroke-width:0">0</text>
<text x="109" y="333.7" font-size="9.3" text-anchor="middle" font-weight="normal" fill="#222" style="stroke-width:0">1</text>
<text x="123.5" y="333.7" font-size="9.3" text-anchor="middle" font-weight="normal" fill="#222" style="stroke-width:0">2</text>
<text x="137.9" y="333.7" font-size="9.3" text-anchor="middle" font-weight="normal" fill="#222" style="stroke-width:0">3</text>
<text x="152.5" y="333.7" font-size="9.3" text-anchor="middle" font-weight="normal" fill="#222" style="stroke-width:0">4</text>
<text x="167.8" y="333.7" font-size="9.3" text-anchor="middle" font-weight="normal" fill="#222" style="stroke-width:0">5</text>
<text x="182.9" y="333.7" font-size="9.3" text-anchor="middle" font-weight="normal" fill="#222" style="stroke-width:0">6</text>
<text x="198.1" y="333.7" font-size="9.3" text-anchor="middle" font-weight="normal" fill="#222" style="stroke-width:0">7</text>
<text x="213.7" y="333.7" font-size="9.3" text-anchor="middle" font-weight="normal" fill="#222" style="stroke-width:0">8</text>
<text x="226.1" y="333.7" font-size="9.3" text-anchor="middle" font-weight="normal" fill="#222" style="stroke-width:0">9</text>
<text x="86.3" y="302.2" font-size="10.6" text-anchor="end" font-weight="normal" fill="#111" >p-S5</text>
<text x="86.3" y="312.7" font-size="10.6" text-anchor="end" font-weight="normal" fill="#111" >S5a</text>
<text x="86.3" y="324.3" font-size="10.6" text-anchor="end" font-weight="normal" fill="#111" >S5b</text>
<rect x="233.3" y="305.2" width="4.41" height="4.41" fill="#000"/>
<line x1="232.5" y1="307.1" x2="235.5" y2="307.4" stroke="#333"/>
<text x="268.3" y="30.8" font-size="10" text-anchor="start" font-weight="normal" fill="#111" >0 - WT, no IL-21</text>
<line x1="241" y1="39.42" x2="267" y2="39.42" stroke="#333" stroke-width="1"/>
<rect x="251.45" y="36.87" width="5.1" height="5.1" fill="#000"/>
<text x="268.3" y="43.02" font-size="10" text-anchor="start" font-weight="normal" fill="#111" >1 - WT</text>
<line x1="241" y1="51.64" x2="267" y2="51.64" stroke="#333" stroke-width="1"/>
<path d="M254,48.69 L256.85,53.79 L251.15,53.79 Z" fill="#000"/>
<text x="268.3" y="55.24" font-size="10" text-anchor="start" font-weight="normal" fill="#111" >2 - Fall</text>
<line x1="241" y1="63.86" x2="267" y2="63.86" stroke="#333" stroke-width="1"/>
<path d="M251.45,61.31 L256.55,66.41 M251.45,66.41 L256.55,61.31" stroke="#222" stroke-width="0.9" fill="none"/>
<text x="268.3" y="67.46" font-size="10" text-anchor="start" font-weight="normal" fill="#111" >3 - Y281</text>
<line x1="241" y1="76.08" x2="267" y2="76.08" stroke="#333" stroke-width="1"/>
<path d="M254,73.53 L256.55,76.08 L254,78.63 L251.45,76.08 Z" fill="#fff" stroke="#222" stroke-width="0.8"/>
<text x="268.3" y="79.68" font-size="10" text-anchor="start" font-weight="normal" fill="#111" >4 - Y319</text>
<line x1="241" y1="88.3" x2="267" y2="88.3" stroke="#333" stroke-width="1"/>
<path d="M254,85.75 L256.55,90.25 L251.45,90.25 Z" fill="#fff" stroke="#222" stroke-width="0.8"/>
<text x="268.3" y="91.9" font-size="10" text-anchor="start" font-weight="normal" fill="#111" >5 - Y361</text>
<line x1="241" y1="100.52" x2="267" y2="100.52" stroke="#333" stroke-width="1"/>
<rect x="251.85" y="98.37" width="4.3" height="4.3" fill="#fff" stroke="#222" stroke-width="0.8"/>
<text x="268.3" y="104.12" font-size="10" text-anchor="start" font-weight="normal" fill="#111" >6 - Y369</text>
<line x1="241" y1="112.74" x2="267" y2="112.74" stroke="#333" stroke-width="1"/>
<circle cx="254" cy="112.74" r="2.25" fill="#fff" stroke="#222" stroke-width="0.8"/>
<text x="268.3" y="116.34" font-size="10" text-anchor="start" font-weight="normal" fill="#111" >7 - Y397</text>
<line x1="241" y1="124.96" x2="267" y2="124.96" stroke="#333" stroke-width="1"/>
<circle cx="254" cy="124.96" r="2.55" fill="#000"/>
<text x="268.3" y="128.56" font-size="10" text-anchor="start" font-weight="normal" fill="#111" >8 - Y510</text>
<line x1="241" y1="137.18" x2="267" y2="137.18" stroke="#333" stroke-width="1" stroke-dasharray="3,2"/>
<path d="M254,134.63 L256.55,137.18 L254,139.73 L251.45,137.18 Z" fill="#fff" stroke="#222" stroke-width="0.8"/>
<text x="268.3" y="140.78" font-size="10" text-anchor="start" font-weight="normal" fill="#111" >9 - Ba/F3</text>
<text x="316.9" y="93.8" font-size="16" text-anchor="start" font-weight="bold" fill="#000" >B</text>
<rect x="354.25" y="161.5" width="13.1" height="19.0" fill="#dadada" stroke="#5a5a5a" stroke-width="0.8"/>
<rect x="367.85" y="161.5" width="12.9" height="19.0" fill="#ffffff" stroke="#5a5a5a" stroke-width="0.8"/>
<rect x="381.25" y="161.5" width="12.9" height="19.0" fill="#1c1c1c" stroke="#5a5a5a" stroke-width="0.8"/>
<rect x="394.65" y="161.5" width="12.8" height="19.0" fill="#c0c0c0" stroke="#5a5a5a" stroke-width="0.8"/>
<rect x="407.95" y="161.5" width="12.8" height="19.0" fill="#c8c8c8" stroke="#5a5a5a" stroke-width="0.8"/>
<line x1="446.85" y1="159.8" x2="446.85" y2="160.5" stroke="#444" stroke-width="0.8"/>
<line x1="445.65" y1="159.8" x2="448.05" y2="159.8" stroke="#444" stroke-width="0.8"/>
<rect x="440.35" y="160.5" width="13.0" height="20.0" fill="#dadada" stroke="#5a5a5a" stroke-width="0.8"/>
<line x1="460.5" y1="116.7" x2="460.5" y2="126.3" stroke="#444" stroke-width="0.8"/>
<line x1="459.3" y1="116.7" x2="461.7" y2="116.7" stroke="#444" stroke-width="0.8"/>
<rect x="453.85" y="126.3" width="13.3" height="54.2" fill="#ffffff" stroke="#5a5a5a" stroke-width="0.8"/>
<line x1="473.9" y1="143" x2="473.9" y2="147.6" stroke="#444" stroke-width="0.8"/>
<line x1="472.7" y1="143" x2="475.1" y2="143" stroke="#444" stroke-width="0.8"/>
<rect x="467.65" y="147.6" width="12.5" height="32.9" fill="#1c1c1c" stroke="#5a5a5a" stroke-width="0.8"/>
<line x1="487.2" y1="111.3" x2="487.2" y2="120" stroke="#444" stroke-width="0.8"/>
<line x1="486.0" y1="111.3" x2="488.4" y2="111.3" stroke="#444" stroke-width="0.8"/>
<rect x="480.65" y="120" width="13.1" height="60.5" fill="#c0c0c0" stroke="#5a5a5a" stroke-width="0.8"/>
<line x1="500.75" y1="146.2" x2="500.75" y2="150" stroke="#444" stroke-width="0.8"/>
<line x1="499.55" y1="146.2" x2="501.95" y2="146.2" stroke="#444" stroke-width="0.8"/>
<rect x="494.25" y="150" width="13.0" height="30.5" fill="#c8c8c8" stroke="#5a5a5a" stroke-width="0.8"/>
<line x1="344.1" y1="104.4" x2="344.1" y2="180.5" stroke="#777" stroke-width="1"/>
<line x1="344.1" y1="180.5" x2="517" y2="180.5" stroke="#333" stroke-width="1"/>
<line x1="342.3" y1="180.5" x2="344.1" y2="180.5" stroke="#777" stroke-width="0.8"/>
<text x="341.8" y="184.3" font-size="10.5" text-anchor="end" font-weight="normal" fill="#1a1a1a" >0</text>
<line x1="342.3" y1="142.45" x2="344.1" y2="142.45" stroke="#777" stroke-width="0.8"/>
<text x="341.8" y="146.25" font-size="10.5" text-anchor="end" font-weight="normal" fill="#1a1a1a" >2</text>
<line x1="342.3" y1="104.4" x2="344.1" y2="104.4" stroke="#777" stroke-width="0.8"/>
<text x="341.8" y="108.2" font-size="10.5" text-anchor="end" font-weight="normal" fill="#1a1a1a" >4</text>
<line x1="430.55" y1="180.5" x2="430.55" y2="183.9" stroke="#555" stroke-width="0.8"/>
<line x1="517" y1="180.5" x2="517" y2="183.9" stroke="#555" stroke-width="0.8"/>
<text x="400.6" y="133.5" font-size="11.7" text-anchor="start" font-weight="normal" fill="#111" >p-Stat1</text>
<rect x="355.95" y="249" width="12.9" height="18.3" fill="#dadada" stroke="#5a5a5a" stroke-width="0.8"/>
<rect x="369.35" y="249" width="12.3" height="18.3" fill="#ffffff" stroke="#5a5a5a" stroke-width="0.8"/>
<rect x="382.15" y="249" width="12.9" height="18.3" fill="#1c1c1c" stroke="#5a5a5a" stroke-width="0.8"/>
<rect x="395.55" y="249" width="12.2" height="18.3" fill="#c0c0c0" stroke="#5a5a5a" stroke-width="0.8"/>
<rect x="408.25" y="249" width="13.0" height="18.3" fill="#c8c8c8" stroke="#5a5a5a" stroke-width="0.8"/>
<line x1="447.75" y1="248" x2="447.75" y2="250.1" stroke="#444" stroke-width="0.8"/>
<line x1="446.55" y1="248" x2="448.95" y2="248" stroke="#444" stroke-width="0.8"/>
<rect x="441.55" y="250.1" width="12.4" height="17.2" fill="#dadada" stroke="#5a5a5a" stroke-width="0.8"/>
<line x1="460.95" y1="219.2" x2="460.95" y2="226.8" stroke="#444" stroke-width="0.8"/>
<line x1="459.75" y1="219.2" x2="462.15" y2="219.2" stroke="#444" stroke-width="0.8"/>
<rect x="454.45" y="226.8" width="13.0" height="40.5" fill="#ffffff" stroke="#5a5a5a" stroke-width="0.8"/>
<line x1="474.15" y1="236.9" x2="474.15" y2="239.1" stroke="#444" stroke-width="0.8"/>
<line x1="472.95" y1="236.9" x2="475.35" y2="236.9" stroke="#444" stroke-width="0.8"/>
<rect x="467.95" y="239.1" width="12.4" height="28.2" fill="#1c1c1c" stroke="#5a5a5a" stroke-width="0.8"/>
<line x1="487.3" y1="209.2" x2="487.3" y2="219.9" stroke="#444" stroke-width="0.8"/>
<line x1="486.1" y1="209.2" x2="488.5" y2="209.2" stroke="#444" stroke-width="0.8"/>
<rect x="480.85" y="219.9" width="12.9" height="47.4" fill="#c0c0c0" stroke="#5a5a5a" stroke-width="0.8"/>
<line x1="500.6" y1="243" x2="500.6" y2="245" stroke="#444" stroke-width="0.8"/>
<line x1="499.4" y1="243" x2="501.8" y2="243" stroke="#444" stroke-width="0.8"/>
<rect x="494.25" y="245" width="12.7" height="22.3" fill="#c8c8c8" stroke="#5a5a5a" stroke-width="0.8"/>
<line x1="346.1" y1="192.4" x2="346.1" y2="267.3" stroke="#777" stroke-width="1"/>
<line x1="346.1" y1="267.3" x2="517" y2="267.3" stroke="#333" stroke-width="1"/>
<line x1="344.3" y1="267.3" x2="346.1" y2="267.3" stroke="#777" stroke-width="0.8"/>
<text x="343.8" y="271.1" font-size="10.5" text-anchor="end" font-weight="normal" fill="#1a1a1a" >0</text>
<line x1="344.3" y1="229.85" x2="346.1" y2="229.85" stroke="#777" stroke-width="0.8"/>
<text x="343.8" y="233.65" font-size="10.5" text-anchor="end" font-weight="normal" fill="#1a1a1a" >2</text>
<line x1="344.3" y1="192.4" x2="346.1" y2="192.4" stroke="#777" stroke-width="0.8"/>
<text x="343.8" y="196.2" font-size="10.5" text-anchor="end" font-weight="normal" fill="#1a1a1a" >4</text>
<line x1="431.55" y1="267.3" x2="431.55" y2="270.7" stroke="#555" stroke-width="0.8"/>
<line x1="517" y1="267.3" x2="517" y2="270.7" stroke="#555" stroke-width="0.8"/>
<text x="400.2" y="222.4" font-size="11.7" text-anchor="start" font-weight="normal" fill="#111" >p-Stat3</text>
<rect x="356.65" y="337.1" width="12.7" height="19.3" fill="#dadada" stroke="#5a5a5a" stroke-width="0.8"/>
<rect x="369.85" y="337.1" width="12.9" height="19.3" fill="#ffffff" stroke="#5a5a5a" stroke-width="0.8"/>
<rect x="383.25" y="337.1" width="12.5" height="19.3" fill="#1c1c1c" stroke="#5a5a5a" stroke-width="0.8"/>
<rect x="396.25" y="337.1" width="12.9" height="19.3" fill="#c0c0c0" stroke="#5a5a5a" stroke-width="0.8"/>
<rect x="409.65" y="337.1" width="12.5" height="19.3" fill="#c8c8c8" stroke="#5a5a5a" stroke-width="0.8"/>
<line x1="448.9" y1="333.5" x2="448.9" y2="336" stroke="#444" stroke-width="0.8"/>
<line x1="447.7" y1="333.5" x2="450.1" y2="333.5" stroke="#444" stroke-width="0.8"/>
<rect x="442.55" y="336" width="12.7" height="20.4" fill="#dadada" stroke="#5a5a5a" stroke-width="0.8"/>
<line x1="462.1" y1="319" x2="462.1" y2="326.1" stroke="#444" stroke-width="0.8"/>
<line x1="460.9" y1="319" x2="463.3" y2="319" stroke="#444" stroke-width="0.8"/>
<rect x="455.75" y="326.1" width="12.7" height="30.3" fill="#ffffff" stroke="#5a5a5a" stroke-width="0.8"/>
<line x1="475.05" y1="332.5" x2="475.05" y2="336.8" stroke="#444" stroke-width="0.8"/>
<line x1="473.85" y1="332.5" x2="476.25" y2="332.5" stroke="#444" stroke-width="0.8"/>
<rect x="468.95" y="336.8" width="12.2" height="19.6" fill="#1c1c1c" stroke="#5a5a5a" stroke-width="0.8"/>
<line x1="487.9" y1="328.7" x2="487.9" y2="332.5" stroke="#444" stroke-width="0.8"/>
<line x1="486.7" y1="328.7" x2="489.1" y2="328.7" stroke="#444" stroke-width="0.8"/>
<rect x="481.65" y="332.5" width="12.5" height="23.9" fill="#c0c0c0" stroke="#5a5a5a" stroke-width="0.8"/>
<line x1="501.0" y1="330" x2="501.0" y2="334" stroke="#444" stroke-width="0.8"/>
<line x1="499.8" y1="330" x2="502.2" y2="330" stroke="#444" stroke-width="0.8"/>
<rect x="494.65" y="334" width="12.7" height="22.4" fill="#c8c8c8" stroke="#5a5a5a" stroke-width="0.8"/>
<line x1="346.3" y1="280" x2="346.3" y2="356.4" stroke="#777" stroke-width="1"/>
<line x1="346.3" y1="356.4" x2="517" y2="356.4" stroke="#333" stroke-width="1"/>
<line x1="344.5" y1="356.4" x2="346.3" y2="356.4" stroke="#777" stroke-width="0.8"/>
<text x="344.0" y="360.2" font-size="10.5" text-anchor="end" font-weight="normal" fill="#1a1a1a" >0</text>
<line x1="344.5" y1="318.2" x2="346.3" y2="318.2" stroke="#777" stroke-width="0.8"/>
<text x="344.0" y="322.0" font-size="10.5" text-anchor="end" font-weight="normal" fill="#1a1a1a" >2</text>
<line x1="344.5" y1="280.0" x2="346.3" y2="280.0" stroke="#777" stroke-width="0.8"/>
<text x="344.0" y="283.8" font-size="10.5" text-anchor="end" font-weight="normal" fill="#1a1a1a" >4</text>
<line x1="431.65" y1="356.4" x2="431.65" y2="359.8" stroke="#555" stroke-width="0.8"/>
<line x1="517" y1="356.4" x2="517" y2="359.8" stroke="#555" stroke-width="0.8"/>
<text x="400.2" y="310.1" font-size="11.7" text-anchor="start" font-weight="normal" fill="#111" >p-Stat5</text>
<text transform="translate(332.3,233.8) rotate(-90)" font-size="13.1" text-anchor="middle" fill="#111">Fold induction</text>
<text transform="translate(363.3,369.9) rotate(-46)" font-size="10" text-anchor="middle" fill="#111">pRV</text>
<text transform="translate(376.6,369.9) rotate(-46)" font-size="10" text-anchor="middle" fill="#111">WT</text>
<text transform="translate(389.8,369.9) rotate(-46)" font-size="10" text-anchor="middle" fill="#111">Fall</text>
<text transform="translate(403.0,369.9) rotate(-46)" font-size="10" text-anchor="middle" fill="#111">Y510</text>
<text transform="translate(416.2,369.9) rotate(-46)" font-size="10" text-anchor="middle" fill="#111">F510</text>
<text transform="translate(449.2,369.9) rotate(-46)" font-size="10" text-anchor="middle" fill="#111">pRV</text>
<text transform="translate(462.4,369.9) rotate(-46)" font-size="10" text-anchor="middle" fill="#111">WT</text>
<text transform="translate(475.4,369.9) rotate(-46)" font-size="10" text-anchor="middle" fill="#111">Fall</text>
<text transform="translate(488.2,369.9) rotate(-46)" font-size="10" text-anchor="middle" fill="#111">Y510</text>
<text transform="translate(501.3,369.9) rotate(-46)" font-size="10" text-anchor="middle" fill="#111">F510</text>
<line x1="351.2" y1="381.7" x2="426.9" y2="381.7" stroke="#000" stroke-width="1.6"/>
<line x1="436" y1="381.7" x2="511.3" y2="381.7" stroke="#000" stroke-width="1.6"/>
<text x="389.2" y="394.8" font-size="13" text-anchor="middle" font-weight="normal" fill="#111" >medium</text>
<text x="472.8" y="394.6" font-size="13" text-anchor="middle" font-weight="normal" fill="#111" >IL-21</text>
</svg>
</body></html>
